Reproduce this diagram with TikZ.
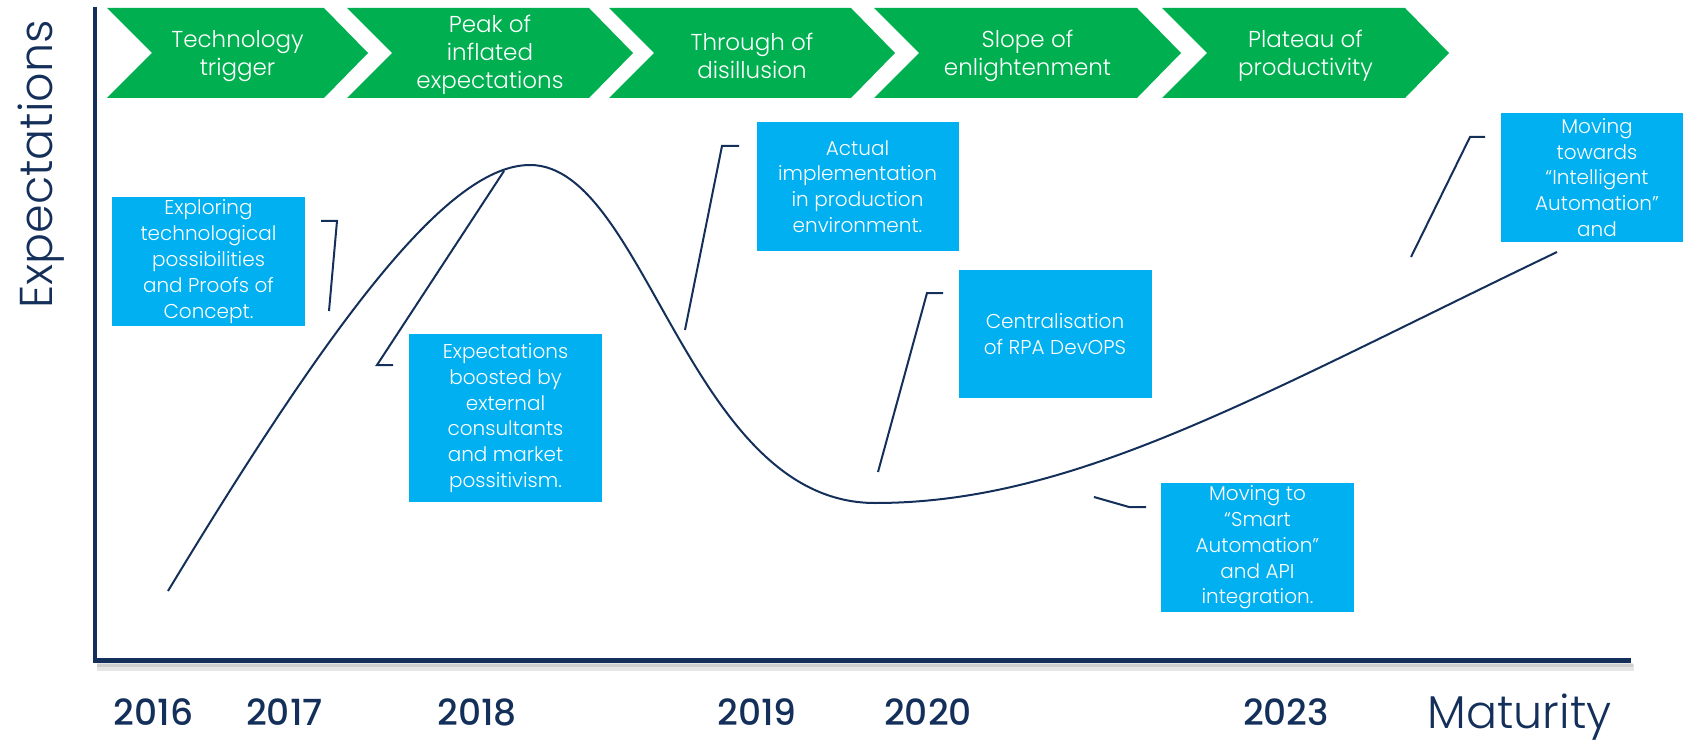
\documentclass[tikz,border=0pt]{standalone}
\usepackage{fontspec}
\setmainfont{Poppins}
\IfFontExistsTF{Poppins Light}{\newfontfamily\lightf{Poppins Light}}{\newfontfamily\lightf{Poppins}}
\IfFontExistsTF{Poppins Medium}{\newfontfamily\medf{Poppins Medium}}{\newcommand\medf{\bfseries}}
\definecolor{navy}{HTML}{14305A}
\definecolor{cgreen}{HTML}{00B050}
\definecolor{cblue}{HTML}{00B0F0}
\newcommand\chevron[2]{\fill[cgreen] (#1,8) -- (#2,8) -- ({#2+44},53) -- (#2,98) -- (#1,98) -- ({#1+45},53) -- cycle;}
\tikzset{
  ctext/.style={text=white, font=\lightf\fontsize{23}{28}\selectfont, align=center, inner sep=0pt},
  bbox/.style={fill=cblue, text=white, inner sep=0pt, align=center, font=\lightf\fontsize{20}{25.8}\selectfont},
  leader/.style={draw=navy, line width=2pt},
  axisline/.style={draw=navy, line width=4.5pt},
  hype/.style={draw=navy, line width=2pt},
  yearlbl/.style={text=navy, anchor=base, font=\medf\fontsize{36}{40}\selectfont, inner sep=0pt},
  axlbl/.style={text=navy, anchor=base, font=\lightf\fontsize{46}{50}\selectfont, inner sep=0pt}
}
\begin{document}
\begin{tikzpicture}[x=1pt,y=-1pt]
\useasboundingbox (0,0) rectangle (1683,743);
% chevrons
\chevron{107}{324}
\chevron{347}{589}
\chevron{609}{851}
\chevron{874}{1137}
\chevron{1162}{1405}
\node[ctext] (c1) at (237.5,56) {Technology\\trigger};
\node[ctext] (c2) at (490,55) {Peak of\\inflated\\expectations};
\node[ctext] (c3) at (752,56) {Through of\\disillusion};
\node[ctext] (c4) at (1027.5,56) {Slope of\\enlightenment};
\node[ctext] (c5) at (1305.5,56) {Plateau of\\productivity};
% axes shadow
\draw[line width=7pt, black, opacity=0.10] (97,667) -- (1634,667);
\draw[line width=4pt, black, opacity=0.10] (97,665) -- (1633,665);
% axes
\coordinate (otop) at (95,7);
\coordinate (orig) at (95,660.5);
\coordinate (xend) at (1631,660.5);
\draw[axisline] (otop) -- (orig);
\draw[axisline] ([xshift=-2.25pt]orig) -- (xend);
% hype curve
\coordinate (hstart) at (168,591);
\coordinate (hpeak) at (530,165);
\coordinate (htrough) at (875,503);
\coordinate (hend) at (1557,252);
\draw[hype] (hstart) .. controls (338,310) and (450,165) .. (hpeak)
  .. controls (646,165) and (689,503) .. (htrough)
  .. controls (1075,503) and (1257,396) .. (hend);
% boxes
\node[bbox, minimum width=193pt, minimum height=129pt] (b1) at (208.5,261.5) {Exploring\\technological\\possibilities\\and Proofs of\\Concept.};
\node[bbox, minimum width=193pt, minimum height=168pt] (b2) at (505.5,418) {Expectations\\boosted by\\external\\consultants\\and market\\possitivism.};
\node[bbox, minimum width=202pt, minimum height=129pt] (b3) at (857.5,186.5) {Actual\\implementation\\in production\\environment.};
\node[bbox, minimum width=193pt, minimum height=128pt] (b4) at (1055,334) {Centralisation\\of RPA DevOPS};
\node[bbox, minimum width=193pt, minimum height=129pt] (b5) at (1257.5,547.5) {Moving to\\“Smart\\Automation”\\and API\\integration.};
\node[bbox, minimum width=192pt, minimum height=129pt] (b6) at (1597,177.5) {Moving\\towards\\“Intelligent\\Automation”\\and};
% leaders
\coordinate (l1a) at (321,221); \coordinate (l1b) at (337,221); \coordinate (l1c) at (329,311);
\draw[leader] (l1a) -- (l1b) -- (l1c);
\coordinate (l2a) at (393,365); \coordinate (l2b) at (377,365); \coordinate (l2c) at (504,171);
\draw[leader] (l2a) -- (l2b) -- (l2c);
\coordinate (l3a) at (739,146); \coordinate (l3b) at (722,146); \coordinate (l3c) at (685,330);
\draw[leader] (l3a) -- (l3b) -- (l3c);
\coordinate (l4a) at (943,293); \coordinate (l4b) at (927,293); \coordinate (l4c) at (878,472);
\draw[leader] (l4a) -- (l4b) -- (l4c);
\coordinate (l5a) at (1146,507); \coordinate (l5b) at (1129,507); \coordinate (l5c) at (1094,497);
\draw[leader] (l5a) -- (l5b) -- (l5c);
\coordinate (l6a) at (1485,137); \coordinate (l6b) at (1470,137); \coordinate (l6c) at (1411,257);
\draw[leader] (l6a) -- (l6b) -- (l6c);
% labels
\node[yearlbl] (y16) at (153.5,725) {2016};
\node[yearlbl] (y17) at (284.5,725) {2017};
\node[yearlbl] (y18) at (477,725) {2018};
\node[yearlbl] (y19) at (757,725) {2019};
\node[yearlbl] (y20) at (928,725) {2020};
\node[yearlbl] (y23) at (1286,725) {2023};
\node[axlbl] (mat) at (1519.5,728) {Maturity};
\node[axlbl, rotate=90] (exp) at (52,164.5) {Expectations};
\end{tikzpicture}
\end{document}
